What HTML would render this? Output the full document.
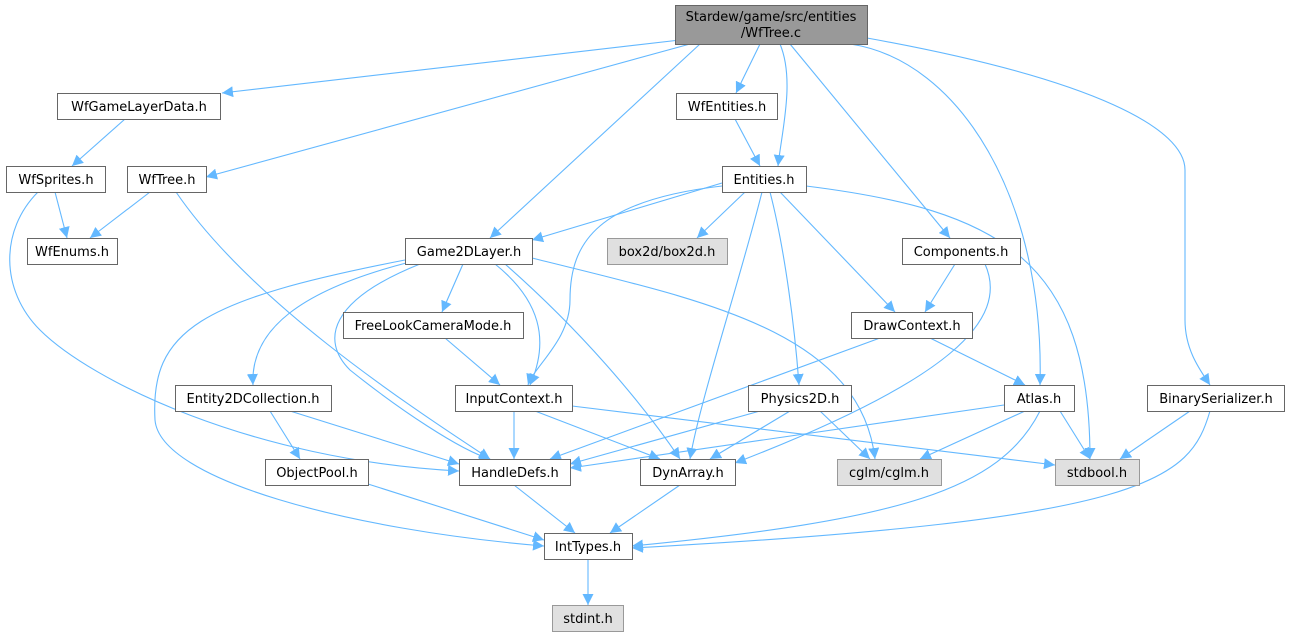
<!DOCTYPE html>
<html><head><meta charset="utf-8"><style>
html,body{margin:0;padding:0;background:#fff;}
svg{display:block;}
text{font-family:"DejaVu Sans","Liberation Sans",sans-serif;font-size:13px;fill:#000;}
</style></head><body>
<svg width="1290" height="637" viewBox="0 0 1290 637" xmlns="http://www.w3.org/2000/svg">
<defs><marker id="a" viewBox="0 0 10 10" refX="10" refY="5" markerWidth="11" markerHeight="11" markerUnits="userSpaceOnUse" orient="auto"><path d="M0,0 L10,5 L0,10 z" fill="#63b8ff"/></marker></defs>
<g fill="none" stroke="#63b8ff" stroke-width="1.1" marker-end="url(#a)">
<path d="M680,40 L222,93"/>
<path d="M760,44 L736,93"/>
<path d="M780,44 C795,80 782,130 778,166"/>
<path d="M700,44 L490,238"/>
<path d="M690,44 L206,177"/>
<path d="M790,44 L950,238"/>
<path d="M850,44 C960,60 1045,200 1040,385"/>
<path d="M867,38 C1100,80 1185,130 1185,170 L1185,320 C1185,350 1200,370 1210,385"/>
<path d="M125,119 L72,166"/>
<path d="M735,119 L760,166"/>
<path d="M55,192 L67,238"/>
<path d="M38,192 C0,230 0,290 40,330 C90,380 250,460 459,471"/>
<path d="M150,192 L90,238"/>
<path d="M176,192 C250,300 400,400 490,459"/>
<path d="M722,183 L532,240"/>
<path d="M745,192 L697,238"/>
<path d="M780,192 L895,312"/>
<path d="M770,192 C785,250 795,330 799,385"/>
<path d="M762,192 C740,280 700,400 690,459"/>
<path d="M722,186 C600,200 570,240 570,300 C570,340 535,365 528,385"/>
<path d="M806,186 C1000,210 1090,260 1090,459"/>
<path d="M955,264 L925,312"/>
<path d="M985,264 C1010,320 950,380 735,463"/>
<path d="M463,264 L442,312"/>
<path d="M410,262 C300,290 250,330 253,385"/>
<path d="M420,264 C330,300 320,340 350,370 C400,410 460,450 490,459"/>
<path d="M405,260 C200,300 150,330 155,420 C160,480 350,530 544,546"/>
<path d="M495,264 C540,300 550,340 530,385"/>
<path d="M505,264 C580,330 640,400 680,459"/>
<path d="M532,258 C700,300 860,330 875,459"/>
<path d="M445,338 L500,385"/>
<path d="M880,338 L550,459"/>
<path d="M930,338 L1025,385"/>
<path d="M270,411 L300,459"/>
<path d="M290,411 L459,464"/>
<path d="M514,411 L514,459"/>
<path d="M535,411 L660,459"/>
<path d="M572,406 L1055,465"/>
<path d="M760,411 L570,464"/>
<path d="M790,411 L710,459"/>
<path d="M820,411 L870,459"/>
<path d="M1004,405 L570,468"/>
<path d="M1025,411 L920,459"/>
<path d="M1060,411 L1090,459"/>
<path d="M1040,411 C1000,490 900,520 632,546"/>
<path d="M1190,411 L1120,459"/>
<path d="M1210,411 C1190,480 1150,520 632,548"/>
<path d="M368,484 L544,540"/>
<path d="M514,485 L575,533"/>
<path d="M680,485 L610,533"/>
<path d="M588,559 L588,605"/>
</g>
<g stroke="#666" stroke-width="1" fill="#fff">
<rect x="675.5" y="5.5" width="192" height="39" fill="#999"/>
<rect x="57.5" y="93.5" width="163" height="26"/>
<rect x="676.5" y="93.5" width="101" height="26"/>
<rect x="6.5" y="166.5" width="99" height="26"/>
<rect x="127.5" y="166.5" width="79" height="26"/>
<rect x="722.5" y="166.5" width="84" height="26"/>
<rect x="27.5" y="238.5" width="90" height="26"/>
<rect x="405.5" y="238.5" width="127" height="26"/>
<rect x="607.5" y="238.5" width="120" height="26" fill="#e0e0e0" stroke="#999"/>
<rect x="902.5" y="238.5" width="118" height="26"/>
<rect x="343.5" y="312.5" width="180" height="26"/>
<rect x="851.5" y="312.5" width="121" height="26"/>
<rect x="175.5" y="385.5" width="156" height="26"/>
<rect x="455.5" y="385.5" width="117" height="26"/>
<rect x="748.5" y="385.5" width="103" height="26"/>
<rect x="1004.5" y="385.5" width="70" height="26"/>
<rect x="1147.5" y="385.5" width="137" height="26"/>
<rect x="265.5" y="459.5" width="103" height="26"/>
<rect x="459.5" y="459.5" width="111" height="26"/>
<rect x="640.5" y="459.5" width="95" height="26"/>
<rect x="837.5" y="459.5" width="104" height="26" fill="#e0e0e0" stroke="#999"/>
<rect x="1055.5" y="459.5" width="84" height="26" fill="#e0e0e0" stroke="#999"/>
<rect x="544.5" y="533.5" width="88" height="26"/>
<rect x="552.5" y="605.5" width="71" height="26" fill="#e0e0e0" stroke="#999"/>
</g>
<g text-anchor="middle">
<text x="771" y="21">Stardew/game/src/entities</text>
<text x="771" y="37">/WfTree.c</text>
<text x="139" y="111">WfGameLayerData.h</text>
<text x="727" y="111">WfEntities.h</text>
<text x="56" y="184">WfSprites.h</text>
<text x="167" y="184">WfTree.h</text>
<text x="764" y="184">Entities.h</text>
<text x="72" y="256">WfEnums.h</text>
<text x="469" y="256">Game2DLayer.h</text>
<text x="667" y="256">box2d/box2d.h</text>
<text x="961" y="256">Components.h</text>
<text x="433" y="330">FreeLookCameraMode.h</text>
<text x="912" y="330">DrawContext.h</text>
<text x="253" y="403">Entity2DCollection.h</text>
<text x="514" y="403">InputContext.h</text>
<text x="800" y="403">Physics2D.h</text>
<text x="1039" y="403">Atlas.h</text>
<text x="1216" y="403">BinarySerializer.h</text>
<text x="317" y="477">ObjectPool.h</text>
<text x="515" y="477">HandleDefs.h</text>
<text x="688" y="477">DynArray.h</text>
<text x="889" y="477">cglm/cglm.h</text>
<text x="1097" y="477">stdbool.h</text>
<text x="588" y="551">IntTypes.h</text>
<text x="588" y="623">stdint.h</text>
</g>
</svg>
</body></html>
